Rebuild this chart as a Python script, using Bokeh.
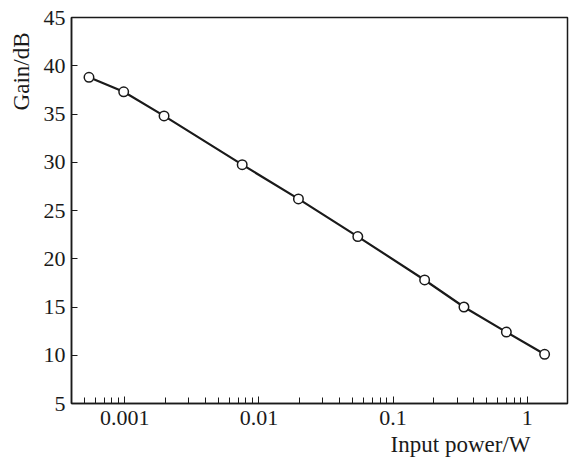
from bokeh.plotting import figure
from bokeh.models import FixedTicker, CustomJSTickFormatter, Title, Range1d
from bokeh.embed import file_html
from bokeh.resources import INLINE

power_w = [0.00054, 0.00098, 0.00196, 0.0075, 0.0197, 0.0546, 0.172, 0.338, 0.70, 1.35]
gain_db = [38.8, 37.3, 34.8, 29.75, 26.2, 22.3, 17.8, 15.0, 12.4, 10.1]

x_major = [0.001, 0.01, 0.1, 1]
y_ticks = [5, 10, 15, 20, 25, 30, 35, 40, 45]

FONT = "Liberation Serif"
INK = "#1a1a1a"

p = figure(width=569, height=459, x_axis_type="log", output_backend="svg",
           toolbar_location=None, x_range=Range1d(0.0004, 2.0), y_range=Range1d(5, 45),
           min_border_left=71, min_border_right=2, min_border_top=17, min_border_bottom=56)
p.grid.visible = False
p.outline_line_color = INK
p.outline_line_width = 1.5
p.background_fill_color = "white"
p.border_fill_color = "white"

minor = [m * d for d in [0.0001, 0.001, 0.01, 0.1] for m in range(2, 10)]
minor = [t for t in minor if 0.00045 < t < 1.9]

xa = p.xaxis[0]
xa.ticker = FixedTicker(ticks=x_major, minor_ticks=minor)
xa.formatter = CustomJSTickFormatter(code="return tick.toString();")
xa.major_tick_in = 7
xa.major_tick_out = 0
xa.minor_tick_in = 6
xa.minor_tick_out = 0
xa.axis_line_color = INK
xa.axis_line_width = 1.5
xa.major_tick_line_color = INK
xa.minor_tick_line_color = INK
xa.major_label_text_font = FONT
xa.major_label_text_font_size = "22px"
xa.major_label_text_color = INK
xa.major_label_standoff = 7

ya = p.yaxis[0]
ya.ticker = FixedTicker(ticks=y_ticks)
ya.major_tick_in = 6
ya.major_tick_out = 0
ya.minor_tick_line_color = None
ya.axis_line_color = INK
ya.axis_line_width = 1.5
ya.major_tick_line_color = INK
ya.major_label_text_font = FONT
ya.major_label_text_font_size = "22px"
ya.major_label_text_color = INK
ya.major_label_standoff = 6

p.add_layout(Title(text="Gain/dB", align="right", offset=15, text_font=FONT,
                   text_font_size="23px", text_font_style="normal", text_color=INK,
                   standoff=13), "left")
p.add_layout(Title(text="Input power/W", align="right", offset=37, text_font=FONT,
                   text_font_size="23px", text_font_style="normal", text_color=INK,
                   standoff=5), "below")

p.line(power_w, gain_db, line_color=INK, line_width=2.2)
p.scatter(power_w, gain_db, size=9.5, marker="circle", fill_color="white",
          line_color=INK, line_width=1.5)

open("out.html", "w").write(file_html(p, INLINE))
